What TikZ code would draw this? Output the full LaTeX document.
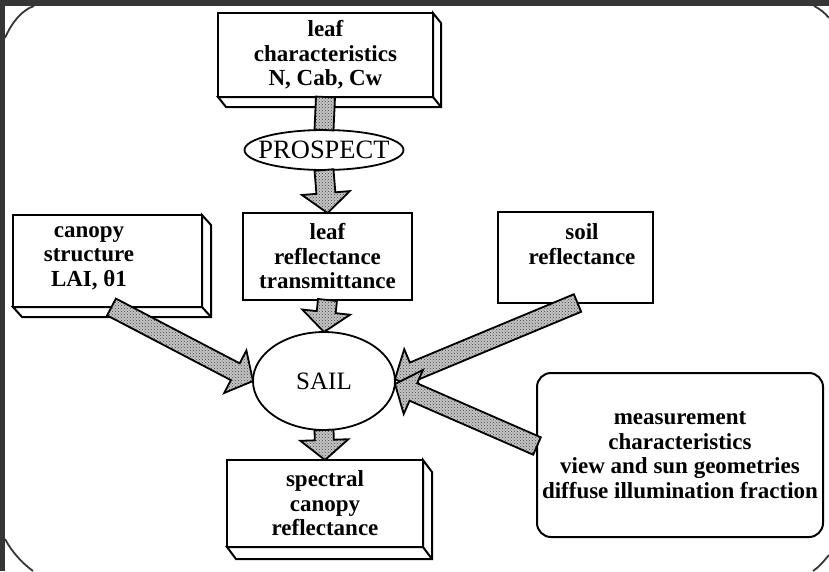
\documentclass[tikz,border=0pt]{standalone}
\usepackage{fontspec}
\setmainfont{Liberation Serif}
\usetikzlibrary{shapes.geometric,calc,patterns}

\definecolor{cornice}{HTML}{363636}

\tikzset{
  box/.style={draw, line width=2pt, fill=white, inner sep=0pt, outer sep=0pt, align=center,
    font=\bfseries\fontsize{23}{24.5}\selectfont},
  oval/.style={draw, ellipse, line width=1.8pt, fill=white, inner sep=0pt, outer sep=0pt,
    font=\fontsize{25}{27}\selectfont},
  txt/.style={align=center, inner sep=0pt, font=\bfseries\fontsize{23}{24.5}\selectfont},
  fatarrow/.style={draw, line width=1.8pt, line join=miter, preaction={fill=gray!45},
    pattern=crosshatch dots, pattern color=black!75}
}

% spessore delle scatole
\newcommand{\spessore}[3]{%
  \draw[line width=2pt, fill=white, line join=miter] (#1.south west) -- ++(#2,#3)
    -- ($(#1.south east)+(#2,#3)$) -- ($(#1.north east)+(#2,#3)$) -- (#1.north east)
    -- (#1.south east) -- cycle;
  \draw[line width=2pt] (#1.south east) -- ++(#2,#3);}

% freccia larga
\newcommand{\freccia}[2]{%
  \coordinate (fa-h) at ($(#2)!20pt!(#1)$);
  \draw[fatarrow] ($(#1)!9.5pt!90:(#2)$) -- ($(fa-h)!9.5pt!90:(#2)$) -- ($(fa-h)!24pt!90:(#2)$)
    -- (#2) -- ($(fa-h)!24pt!-90:(#2)$) -- ($(fa-h)!9.5pt!-90:(#2)$) -- ($(#1)!9.5pt!-90:(#2)$) -- cycle;}

% gambo senza punta
\newcommand{\gambo}[2]{%
  \draw[fatarrow] ($(#1)!9.5pt!90:(#2)$) -- ($(#2)!9.5pt!-90:(#1)$) -- ($(#2)!9.5pt!90:(#1)$)
    -- ($(#1)!9.5pt!-90:(#2)$) -- cycle;}

\begin{document}
\begin{tikzpicture}[x=1pt, y=-1pt]
        \useasboundingbox (0,0) rectangle (829,571);
        % Sfondo
        \fill[cornice] (0,0) rectangle (829,571);
        \fill[white] (5,6) rectangle (829,571);
        \draw[cornice, line width=1.8pt] (5,38) .. controls (12,22) and (22,10) .. (34,6);
        \draw[cornice, line width=1.8pt] (814,6) .. controls (820,9) and (825,13) .. (829,18);
        \draw[cornice, line width=1.8pt] (829,555) .. controls (823,562) and (819,567) .. (813,571);
        \draw[cornice, line width=1.8pt] (5,539) .. controls (12,552) and (22,563) .. (33,571);
        % Riquadri
        \node[box, minimum width=215pt, minimum height=84pt] (leafchar) at (325.5,55)
          {leaf\\characteristics\\N, Cab, Cw};
        \node[oval, minimum width=159pt, minimum height=40pt, inner xsep=-20pt, inner ysep=-2pt,
          font=\fontsize{26.5}{28}\selectfont] (prospect) at (324,150) {PROSPECT};
        \node[box, minimum width=169pt, minimum height=87pt] (leafrefl) at (327.5,256.5)
          {leaf\\reflectance\\transmittance};
        \node[box, minimum width=189pt, minimum height=92pt] (canopy) at (107.5,261) {};
        \node[box, minimum width=155pt, minimum height=91pt] (soil) at (575.5,257.5) {};
        \node[oval, minimum width=142pt, minimum height=98pt] (sail) at (324,381) {SAIL};
        \node[box, minimum width=196pt, minimum height=87pt] (spectral) at (325,503.5)
          {spectral\\canopy\\reflectance};
        \node[box, rounded corners=14pt, minimum width=286pt, minimum height=164pt] (meas) at (680,455)
          {measurement\\characteristics\\view and sun geometries\\diffuse illumination fraction};
        \spessore{leafchar}{8}{10}
        \spessore{canopy}{9}{10}
        \spessore{spectral}{9}{12}
        % Testi
        \node[txt] (canopytxt) at (89,258) {canopy\\structure\\LAI, θ1};
        \node[txt] (soiltxt) at (582,244) {soil\\reflectance};
        % Frecce
        \coordinate (canopyout) at ([xshift=4pt]canopy.south);
        \coordinate (soilout) at ([xshift=2pt]soil.south);
        \coordinate (measout) at ([yshift=9pt]meas.west);
        \coordinate (sailin1) at ([yshift=2pt]sail.east);
        \coordinate (sailin2) at ([yshift=-3pt]sail.east);
        \gambo{leafchar.south}{prospect.north}
        \freccia{prospect.south}{leafrefl.north}
        \freccia{leafrefl.south}{sail.north}
        \freccia{sail.south}{spectral.north}
        \freccia{canopyout}{sail.west}
        \freccia{soilout}{sailin1}
        \freccia{measout}{sailin2}
    \end{tikzpicture}
\end{document}
